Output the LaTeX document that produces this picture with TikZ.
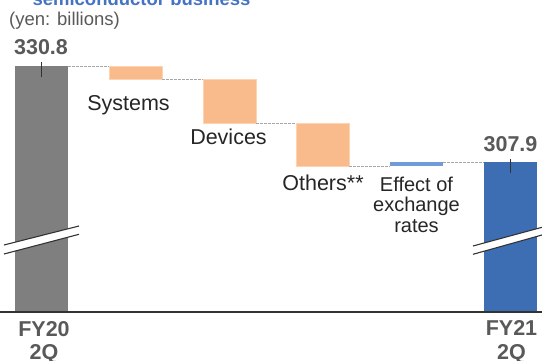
\documentclass[tikz,border=0pt]{standalone}
\usepackage{fontspec}
\setmainfont{Liberation Sans}
\definecolor{bargray}{HTML}{7F7F7F}
\definecolor{barorange}{HTML}{F9BB8B}
\definecolor{orangeedge}{HTML}{FDD3B0}
\definecolor{barblue}{HTML}{3D6DB3}
\definecolor{lightblue}{HTML}{6F9BD8}
\definecolor{titleblue}{HTML}{4472C4}
\definecolor{numgray}{HTML}{595959}
\definecolor{labeldark}{HTML}{262626}
\definecolor{axisdark}{HTML}{333333}
\tikzset{
  bar/.style={inner sep=0pt, outer sep=0pt, minimum width=53pt, anchor=north west, draw=none},
  obar/.style={bar, fill=barorange, draw=orangeedge, line width=0.6pt},
  link/.style={dashed, dash pattern=on 2.5pt off 1.5pt, draw=gray!70, line width=0.6pt},
  lbl/.style={inner sep=0pt, anchor=base, text=labeldark, font=\fontsize{21.5}{24}\selectfont},
  num/.style={inner sep=0pt, anchor=base, text=numgray, font=\fontsize{21.5}{24}\selectfont\bfseries},
  tickline/.style={draw=black!80, line width=0.8pt},
  brk/.style={draw=axisdark, line width=1.1pt}
}
\begin{document}
\begin{tikzpicture}[x=1pt,y=-1pt]
\useasboundingbox (0,0) rectangle (542,361);
% title and unit
\node[inner sep=0pt, anchor=base, text=titleblue, font=\fontsize{18.5}{20}\selectfont\bfseries] (title) at (141.5,5.5) {semiconductor business};
\node[inner sep=0pt, anchor=base, text=numgray, font=\fontsize{18.5}{20}\selectfont] (unit) at (64.5,25.5) {(yen: billions)};
% bars
\node[bar, fill=bargray, minimum height=245pt] (fy20) at (15,66) {};
\node[obar, minimum height=13pt] (sys) at (109,66) {};
\node[obar, minimum height=44pt] (dev) at (203,79) {};
\node[obar, minimum height=43pt] (oth) at (296,123) {};
\node[bar, fill=lightblue, minimum height=4pt] (fx) at (390,162) {};
\node[bar, fill=barblue, minimum height=149pt] (fy21) at (484,162) {};
% dashed links
\draw[link] (fy20.north east) -- (sys.north west);
\draw[link] (sys.south east) -- (dev.north west);
\draw[link] (dev.south east) -- (oth.north west);
\draw[link] (oth.south east) -- (fx.south west);
\draw[link] (fx.north east) -- (fy21.north west);
% ticks
\draw[tickline] ([yshift=4pt]fy20.north) -- ([yshift=-11pt]fy20.north);
\draw[tickline] ([yshift=3pt]fy21.north) -- ([yshift=-11pt]fy21.north);
% axis
\coordinate (axl) at (0,312.3);
\coordinate (axr) at (542,312.3);
\draw[draw=axisdark, line width=2.2pt] (axl) -- (axr);
% break marks
\fill[white] (4,245) -- (79,226) -- (79,234.3) -- (4,254) -- cycle;
\draw[brk] (4,245) -- (79,226);
\draw[brk] (4,254) -- (79,234.3);
\fill[white] (473,246) -- (542,227.3) -- (542,235) -- (473,254.3) -- cycle;
\draw[brk] (473,246) -- (542,227.3);
\draw[brk] (473,254.3) -- (542,235);
% values
\node[num] (v20) at (41,55) {330.8};
\node[num] (v21) at (510.5,151.5) {307.9};
% labels
\node[lbl] (lsys) at (128.5,111) {Systems};
\node[lbl] (ldev) at (228.5,145) {Devices};
\node[lbl] (loth) at (323,191) {Others**};
\node[lbl, anchor=north, align=center, font=\fontsize{20}{20.5}\selectfont] (lfx) at (416.5,176.5) {Effect of\\exchange\\rates};
% x labels
\node[num] (x20a) at (44,336) {FY20};
\node[num] (x20b) at (44,359.5) {2Q};
\node[num] (x21a) at (511.5,335) {FY21};
\node[num] (x21b) at (511.5,359.5) {2Q};
\end{tikzpicture}
\end{document}
